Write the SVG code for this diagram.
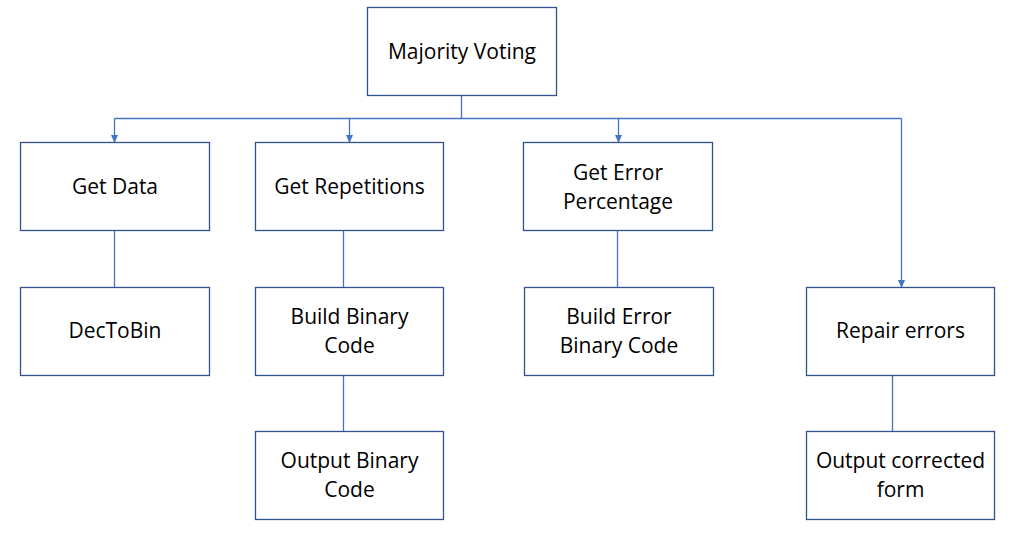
<svg xmlns="http://www.w3.org/2000/svg" width="1010" height="537" viewBox="0 0 1010 537">
<style>
.box{fill:#fff;stroke:#2F528F;stroke-width:1.3}
.t{font-family:"Open Sans","Liberation Sans",sans-serif;font-size:21px;fill:#000;text-anchor:middle}
.c{fill:none;stroke:#4472C4;stroke-width:1.3}
</style>
<defs>
<marker id="ah" markerWidth="8" markerHeight="7" refX="7" refY="3.5" orient="auto" markerUnits="userSpaceOnUse">
<path d="M0,0 L8,3.5 L0,7 Z" fill="#4472C4"/>
</marker>
</defs>
<rect width="1010" height="537" fill="#fff"/>
<g id="connectors">
<path class="c" d="M461.5,95.5 V118.5"/>
<path class="c" d="M114.5,118.5 H901.5"/>
<path class="c" d="M114.5,118.5 V142" marker-end="url(#ah)"/>
<path class="c" d="M349.5,118.5 V142" marker-end="url(#ah)"/>
<path class="c" d="M618.5,118.5 V142" marker-end="url(#ah)"/>
<path class="c" d="M901.5,118.5 V287" marker-end="url(#ah)"/>
<path class="c" d="M114.5,230.5 V287.5"/>
<path class="c" d="M343.5,230.5 V287.5"/>
<path class="c" d="M617.5,230.5 V287.5"/>
<path class="c" d="M343.5,375.5 V431.5"/>
<path class="c" d="M892.5,375.5 V431.5"/>
</g>
<g id="majority">
<rect class="box" x="367.5" y="7.5" width="189" height="88"/>
<text class="t" x="462" y="59">Majority Voting</text>
</g>
<g id="getdata">
<rect class="box" x="20.5" y="142.5" width="189" height="88"/>
<text class="t" x="115" y="194">Get Data</text>
</g>
<g id="dectobin">
<rect class="box" x="20.5" y="287.5" width="189" height="88"/>
<text class="t" x="115" y="338">DecToBin</text>
</g>
<g id="getrep">
<rect class="box" x="255.5" y="142.5" width="188" height="88"/>
<text class="t" x="349.5" y="194">Get Repetitions</text>
</g>
<g id="buildbin">
<rect class="box" x="255.5" y="287.5" width="188" height="88"/>
<text class="t" x="349.5" y="324">Build Binary</text>
<text class="t" x="349.5" y="353">Code</text>
</g>
<g id="outbin">
<rect class="box" x="255.5" y="431.5" width="188" height="88"/>
<text class="t" x="349.5" y="468">Output Binary</text>
<text class="t" x="349.5" y="497">Code</text>
</g>
<g id="geterr">
<rect class="box" x="523.5" y="142.5" width="189" height="88"/>
<text class="t" x="618" y="180">Get Error</text>
<text class="t" x="618" y="209">Percentage</text>
</g>
<g id="builderr">
<rect class="box" x="524.5" y="287.5" width="189" height="88"/>
<text class="t" x="619" y="324">Build Error</text>
<text class="t" x="619" y="353">Binary Code</text>
</g>
<g id="repair">
<rect class="box" x="806.5" y="287.5" width="188" height="88"/>
<text class="t" x="900.5" y="338">Repair errors</text>
</g>
<g id="outcorr">
<rect class="box" x="806.5" y="431.5" width="188" height="88"/>
<text class="t" x="900.5" y="468">Output corrected</text>
<text class="t" x="900.5" y="497">form</text>
</g>
</svg>
